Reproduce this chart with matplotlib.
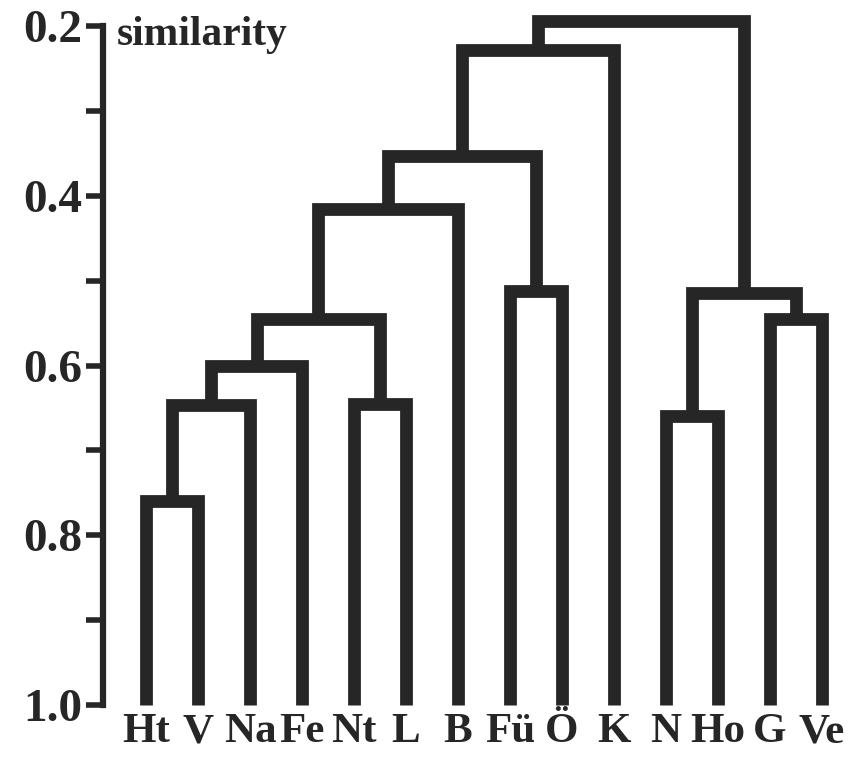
import numpy as np
import matplotlib
matplotlib.use("Agg")
import matplotlib.pyplot as plt

# leaves, left to right
leaves = ["Ht", "V", "Na", "Fe", "Nt", "L", "B", "Fü", "Ö", "K", "N", "Ho", "G", "Ve"]

# merges: (left node, right node, similarity); new node ids start at len(leaves)
merge_left = [0, 14, 15, 4, 16, 18, 7, 19, 21, 10, 12, 23, 22]
merge_right = [1, 2, 3, 5, 17, 6, 8, 20, 9, 11, 13, 24, 25]
merge_sim = [0.76, 0.647, 0.60, 0.645, 0.545, 0.416, 0.512, 0.353, 0.228, 0.66, 0.545, 0.515, 0.194]

major_ticks = [0.2, 0.4, 0.6, 0.8, 1.0]
minor_ticks = [0.3, 0.5, 0.7, 0.9]

ink = "#262626"
serif = ["Liberation Serif", "DejaVu Serif"]

fig = plt.figure(figsize=(8.5, 7.63), dpi=100)
# 0.2 sits at y=26px, 1.0 at y=705px
ax = fig.add_axes([0.0, (763 - 705) / 763, 1.0, (705 - 26) / 763])

n = len(leaves)
xs = list(np.arange(n, dtype=float))
hs = [1.0] * n
for a, b, s in zip(merge_left, merge_right, merge_sim):
    ax.plot([xs[a], xs[a], xs[b], xs[b]], [hs[a], s, s, hs[b]],
            color=ink, lw=9.2, solid_joinstyle="miter", solid_capstyle="butt",
            clip_on=False, zorder=3)
    xs.append((xs[a] + xs[b]) / 2)
    hs.append(s)

# leaf 0 at x=146px, ~52px per leaf
step = 52.0
ax.set_xlim(-146 / step, (850 - 146) / step)
ax.set_ylim(1.0, 0.2)

for side in ["top", "right", "bottom"]:
    ax.spines[side].set_visible(False)
ax.spines["left"].set_position(("data", (103 - 146) / step))
ax.spines["left"].set_bounds(1.0, 0.2)
ax.spines["left"].set_linewidth(4.5)
ax.spines["left"].set_color(ink)
ax.spines["left"].set_capstyle("projecting")

ax.set_yticks(major_ticks)
ax.set_yticklabels([f"{v:.1f}" for v in major_ticks])
ax.set_yticks(minor_ticks, minor=True)
ax.tick_params(axis="y", which="both", direction="out", length=12, width=4,
               color=ink, pad=3)
for lab in ax.get_yticklabels():
    lab.set_fontfamily(serif)
    lab.set_fontweight("bold")
    lab.set_fontsize(34)
    lab.set_color(ink)

ax.set_xticks(np.arange(n))
ax.set_xticklabels(leaves)
ax.tick_params(axis="x", length=0, pad=6)
for lab in ax.get_xticklabels():
    lab.set_fontfamily(serif)
    lab.set_fontweight("bold")
    lab.set_fontsize(31)
    lab.set_color(ink)

fig.text(117 / 850, 1 - 45 / 763, "similarity", family=serif, fontweight="bold",
         fontsize=30, color=ink, ha="left", va="baseline")

fig.savefig("out.png", dpi=100, facecolor="white")
